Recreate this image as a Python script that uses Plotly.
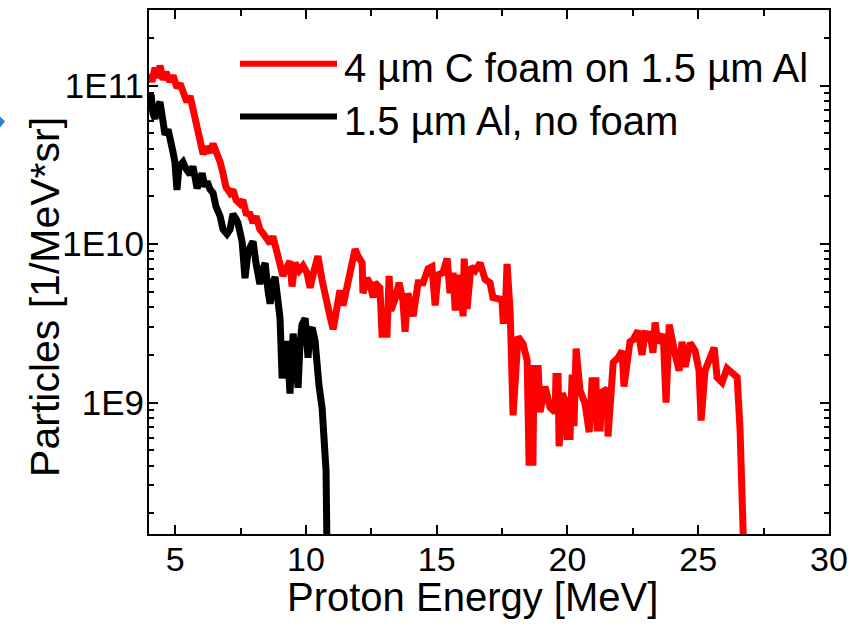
import plotly.graph_objects as go

# ---- data ----
red_energy = [4.00, 4.11, 4.23, 4.34, 4.42, 4.54, 4.65, 4.80, 4.92, 5.07, 5.19, 5.34, 5.45, 5.57, 5.68,
              5.84, 5.95, 6.07, 6.18, 6.33, 6.45, 6.60, 6.72, 6.83, 6.94, 7.10, 7.21, 7.33, 7.48, 7.59,
              7.71, 7.86, 7.98, 8.09, 8.24, 8.36, 8.51, 8.63, 8.74, 8.86, 9.01, 9.12, 9.24, 9.39, 9.47,
              9.58, 9.74, 9.89, 10.04, 10.16, 10.31, 10.46, 10.62, 10.81, 10.92, 11.04, 11.15, 11.30,
              11.42, 11.57, 11.72, 11.88, 11.99, 12.15, 12.18, 12.34, 12.45, 12.57, 12.64, 12.83, 12.91,
              13.10, 13.18, 13.25, 13.41, 13.56, 13.71, 13.79, 13.90, 14.10, 14.29, 14.48, 14.67, 14.82,
              14.94, 15.05, 15.24, 15.40, 15.51, 15.63, 15.70, 15.78, 15.89, 16.01, 16.05, 16.16, 16.31,
              16.47, 16.66, 16.85, 17.04, 17.15, 17.42, 17.50, 17.54, 17.61, 17.69, 17.81, 17.92, 18.03,
              18.11, 18.30, 18.46, 18.53, 18.68, 18.72, 18.88, 18.95, 19.14, 19.34, 19.53, 19.56, 19.64,
              19.68, 19.80, 19.95, 19.98, 20.10, 20.18, 20.25, 20.33, 20.48, 20.67, 20.83, 20.94, 21.09,
              21.13, 21.25, 21.32, 21.52, 21.55, 21.75, 21.94, 22.09, 22.16, 22.39, 22.51, 22.70, 22.85,
              22.97, 23.16, 23.27, 23.35, 23.46, 23.66, 23.77, 23.89, 24.12, 24.27, 24.38, 24.50, 24.69,
              24.88, 25.03, 25.11, 25.26, 25.38, 25.61, 25.72, 25.91, 26.10, 26.30, 26.49, 26.60, 26.68,
              26.75]
red_particles = [1.19e11, 1.06e11, 1.30e11, 1.12e11, 1.34e11, 1.09e11, 1.22e11, 1.06e11, 1.16e11, 9.7e10,
                 1.03e11, 8.5e10, 7.9e10, 8.6e10, 7.1e10, 5.5e10, 4.6e10, 3.7e10, 4.1e10, 3.8e10,
                 4.3e10, 3.8e10, 3.3e10, 2.8e10, 2.3e10, 2.1e10, 2.2e10, 1.9e10, 1.8e10, 1.9e10,
                 1.57e10, 1.55e10, 1.36e10, 1.50e10, 1.24e10, 1.17e10, 1.07e10, 1.01e10, 1.12e10, 9.0e9,
                 7.6e9, 6.3e9, 7.0e9, 7.8e9, 5.4e9, 7.6e9, 6.8e9, 7.3e9, 6.6e9, 5.3e9,
                 6.8e9, 8.4e9, 5.9e9, 4.5e9, 3.5e9, 2.9e9, 3.7e9, 5.1e9, 4.1e9, 5.3e9,
                 7.3e9, 9.3e9, 8.4e9, 7.6e9, 4.9e9, 6.1e9, 5.6e9, 4.6e9, 5.7e9, 5.3e9,
                 2.7e9, 2.7e9, 6.3e9, 3.8e9, 4.5e9, 5.7e9, 4.4e9, 2.8e9, 4.9e9, 3.5e9,
                 5.7e9, 5.7e9, 7.0e9, 7.2e9, 4.1e9, 6.4e9, 6.6e9, 8.1e9, 4.9e9, 6.6e9,
                 4.0e9, 4.0e9, 6.4e9, 3.5e9, 8.1e9, 3.9e9, 7.2e9, 6.8e9, 7.6e9, 6.0e9,
                 5.7e9, 4.6e9, 4.5e9, 4.3e9, 3.3e9, 3.3e9, 7.5e9, 3.7e9, 8.3e8, 1.37e9,
                 2.6e9, 2.35e9, 1.84e9, 4.2e8, 4.2e8, 1.64e9, 1.64e9, 8.7e8, 1.26e9, 9.3e8,
                 8.7e8, 1.46e9, 1.46e9, 5.3e8, 1.14e9, 1.0e9, 6.1e8, 6.1e8, 1.50e9, 7.1e8,
                 2.19e9, 1.19e9, 9.9e8, 6.5e8, 1.37e9, 1.37e9, 6.9e8, 6.9e8, 1.16e9, 1.22e9,
                 6.1e8, 1.79e9, 1.92e9, 2.12e9, 1.26e9, 2.42e9, 2.49e9, 2.84e9, 2.0e9, 2.72e9,
                 2.7e9, 2.06e9, 3.2e9, 2.38e9, 2.7e9, 1.0e9, 3.1e9, 2.0e9, 1.59e9, 2.42e9,
                 1.68e9, 2.38e9, 2.12e9, 1.59e9, 7.7e8, 1.59e9, 1.76e9, 2.22e9, 1.44e9, 1.34e9,
                 1.64e9, 1.55e9, 1.44e9, 6.7e8, 2.8e8, 1.0e8]

black_energy = [4.00, 4.08, 4.15, 4.23, 4.34, 4.42, 4.54, 4.61, 4.73, 4.80, 4.92, 4.99, 5.07, 5.15, 5.30,
                5.41, 5.57, 5.68, 5.84, 5.95, 6.03, 6.14, 6.22, 6.33, 6.45, 6.56, 6.72, 6.83, 6.98, 7.10,
                7.21, 7.33, 7.40, 7.56, 7.67, 7.79, 7.86, 7.98, 8.09, 8.24, 8.36, 8.44, 8.55, 8.63, 8.74,
                8.82, 8.93, 9.01, 9.09, 9.20, 9.28, 9.39, 9.51, 9.62, 9.70, 9.77, 9.85, 9.97, 10.08, 10.16,
                10.24, 10.35, 10.42, 10.50, 10.62, 10.69, 10.77, 10.81]
black_particles = [7.9e10, 8.8e10, 6.7e10, 6.2e10, 7.4e10, 7.9e10, 5.9e10, 4.9e10, 5.3e10, 4.4e10,
                   3.8e10, 3.3e10, 2.2e10, 3.1e10, 3.3e10, 3.0e10, 2.75e10, 3.1e10, 2.25e10, 2.56e10,
                   2.8e10, 2.3e10, 2.49e10, 2.22e10, 2.1e10, 1.73e10, 1.50e10, 1.24e10, 1.16e10, 1.24e10,
                   1.55e10, 1.44e10, 1.36e10, 1.04e10, 6.1e9, 9.0e9, 9.6e9, 1.04e10, 7.6e9, 5.6e9,
                   7.0e9, 7.6e9, 5.1e9, 4.2e9, 5.7e9, 6.2e9, 4.4e9, 3.4e9, 1.42e9, 2.28e9,
                   2.45e9, 1.14e9, 2.72e9, 1.84e9, 1.24e9, 2.28e9, 3.1e9, 3.4e9, 1.92e9, 2.84e9,
                   2.96e9, 2.45e9, 1.71e9, 1.28e9, 9.2e8, 6.7e8, 3.7e8, 1.0e8]

series_names = ["4 µm C foam on 1.5 µm Al", "1.5 µm Al, no foam"]
series_colors = ["#ff0000", "#000000"]

x_ticks = [5, 10, 15, 20, 25, 30]
x_minor = [7.5, 12.5, 17.5, 22.5, 27.5]
y_ticks = [1e9, 1e10, 1e11]
y_ticktext = ["1E9", "1E10", "1E11"]
y_minor = [m * 10 ** e for e in (8, 9, 10, 11) for m in range(2, 10)]

# ---- figure ----
FONT = "Liberation Sans, Arial, sans-serif"
W, H = 857, 626
L, R, T, B = 149, 28, 8, 92
pw, ph = W - L - R, H - T - B


def px(xp):
    return (xp - L) / pw


def py(yp):
    return (H - B - yp) / ph


fig = go.Figure()
fig.add_trace(go.Scatter(x=red_energy, y=red_particles, mode="lines",
                         line=dict(color=series_colors[0], width=7), name=series_names[0],
                         showlegend=False))
fig.add_trace(go.Scatter(x=black_energy, y=black_particles, mode="lines",
                         line=dict(color=series_colors[1], width=7), name=series_names[1],
                         showlegend=False))

axis_common = dict(showline=True, linecolor="black", linewidth=2, mirror="allticks",
                   ticks="inside", tickwidth=2, tickcolor="black", showgrid=False,
                   zeroline=False)

fig.update_xaxes(range=[4, 30], tickvals=x_ticks, ticklen=9, ticklabelstandoff=-6,
                 tickfont=dict(family=FONT, size=34, color="black"),
                 minor=dict(tickvals=x_minor, ticks="inside", ticklen=6, tickwidth=2,
                            tickcolor="black", showgrid=False),
                 **axis_common)
fig.update_yaxes(type="log", range=[8.17, 11.478], tickvals=y_ticks, ticktext=y_ticktext,
                 ticklen=9, ticklabelstandoff=-4,
                 tickfont=dict(family=FONT, size=35, color="black"),
                 minor=dict(tickvals=y_minor, ticks="inside", ticklen=5, tickwidth=2,
                            tickcolor="black", showgrid=False),
                 **axis_common)

annotations = [
    dict(text="Proton Energy [MeV]", x=px(472), y=py(597), xref="paper", yref="paper",
         showarrow=False, xanchor="center", yanchor="middle",
         font=dict(family=FONT, size=40, color="black")),
    dict(text="Particles [1/MeV*sr]", x=px(45), y=py(296), xref="paper", yref="paper",
         showarrow=False, xanchor="center", yanchor="middle", textangle=-90,
         font=dict(family=FONT, size=41, color="black")),
]
shapes = []
legend_y = [62, 115]
for name, color, ly in zip(series_names, series_colors, legend_y):
    shapes.append(dict(type="line", xref="paper", yref="paper", x0=px(240), x1=px(337),
                       y0=py(ly), y1=py(ly), line=dict(color=color, width=6)))
    annotations.append(dict(text=name, x=px(342), y=py(ly + 4), xref="paper", yref="paper",
                            showarrow=False, xanchor="left", yanchor="middle",
                            font=dict(family=FONT, size=40, color="black")))

# small blue arrow tip cut at the left edge of the reference
shapes.append(dict(type="path", xref="paper", yref="paper",
                   path=f"M {px(0)} {py(115)} L {px(5)} {py(120)} L {px(0)} {py(126)} Z",
                   fillcolor="#2a7fd4", line=dict(width=0)))

fig.update_layout(width=W, height=H, margin=dict(l=L, r=R, t=T, b=B, pad=0),
                  paper_bgcolor="white", plot_bgcolor="white",
                  annotations=annotations, shapes=shapes, showlegend=False)

fig.write_html("out.html", config={"displayModeBar": False},
               post_script="document.body.style.margin='0px';")
